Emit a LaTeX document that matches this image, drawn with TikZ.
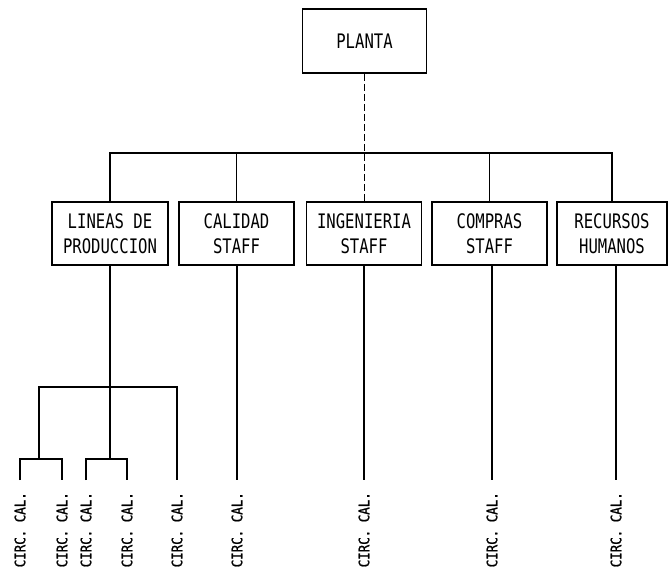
\documentclass[tikz,border=0pt]{standalone}
\usepackage{fontspec}
\newfontfamily\boxfont[FakeStretch=0.78]{DejaVu Sans Mono}
\newfontfamily\leaffont[FakeStretch=0.86,FakeBold=1.2]{DejaVu Sans Mono}
\begin{document}
\begin{tikzpicture}[x=1pt,y=-1pt,
  unit/.style={draw, line width=1.5pt, minimum height=63pt, align=center,
    inner sep=0pt, font=\boxfont\fontsize{20}{25}\selectfont},
  link/.style={line width=1.1pt},
  staffline/.style={line width=0.8pt, dash pattern=on 7pt off 3pt},
  leaf/.style={rotate=90, anchor=east, inner sep=0pt,
    font=\leaffont\fontsize{14.5}{15}\selectfont},
  gap/.style={shorten >=12pt}]
\useasboundingbox (0,0) rectangle (668,576);

% organisation boxes
\node[unit, minimum width=124pt, minimum height=64pt] (planta) at (364.5,41) {PLANTA};
\node[unit, minimum width=116pt] (lineas)     at (110,233.5)   {LINEAS DE\\PRODUCCION};
\node[unit, minimum width=115pt] (calidad)    at (236.5,233.5) {CALIDAD\\STAFF};
\node[unit, minimum width=115pt] (ingenieria) at (364,233.5)   {INGENIERIA\\STAFF};
\node[unit, minimum width=115pt] (compras)    at (489.5,233.5) {COMPRAS\\STAFF};
\node[unit, minimum width=110pt] (recursos)   at (612,233.5)   {RECURSOS\\HUMANOS};

% quality circles
\node[leaf] (l1) at (20,492)  {CIRC. CAL.};
\node[leaf] (l2) at (62,492)  {CIRC. CAL.};
\node[leaf] (l3) at (86,492)  {CIRC. CAL.};
\node[leaf] (l4) at (127,492) {CIRC. CAL.};
\node[leaf] (l5) at (177,492) {CIRC. CAL.};
\node[leaf] (l6) at (237,492) {CIRC. CAL.};
\node[leaf] (l7) at (364,492) {CIRC. CAL.};
\node[leaf] (l8) at (492,492) {CIRC. CAL.};
\node[leaf] (l9) at (616,492) {CIRC. CAL.};

% junction levels
\coordinate (bar) at (0,153);
\coordinate (ja) at (39,387);
\coordinate (jb) at (39,459);

% top level
\draw[staffline] (planta.south) -- (planta.south |- ingenieria.north);
\draw[link] (lineas.north) |- (bar -| recursos.north) -- (recursos.north);
\draw[link] (calidad.north) -- (calidad.north |- bar);
\draw[link] (compras.north) -- (compras.north |- bar);

% production lines
\draw[link] (lineas.south) -- (lineas.south |- jb);
\draw[link, gap] (jb) -- (ja) -- (ja -| l5.east) -- (l5.east);
\draw[link, gap, shorten <=12pt] (l1.east) -- (l1.east |- jb) -- (l2.east |- jb) -- (l2.east);
\draw[link, gap, shorten <=12pt] (l3.east) -- (l3.east |- jb) -- (l4.east |- jb) -- (l4.east);

% staff circles
\draw[link, gap] (l6.east |- calidad.south) -- (l6.east);
\draw[link, gap] (l7.east |- ingenieria.south) -- (l7.east);
\draw[link, gap] (l8.east |- compras.south) -- (l8.east);
\draw[link, gap] (l9.east |- recursos.south) -- (l9.east);
\end{tikzpicture}
\end{document}
